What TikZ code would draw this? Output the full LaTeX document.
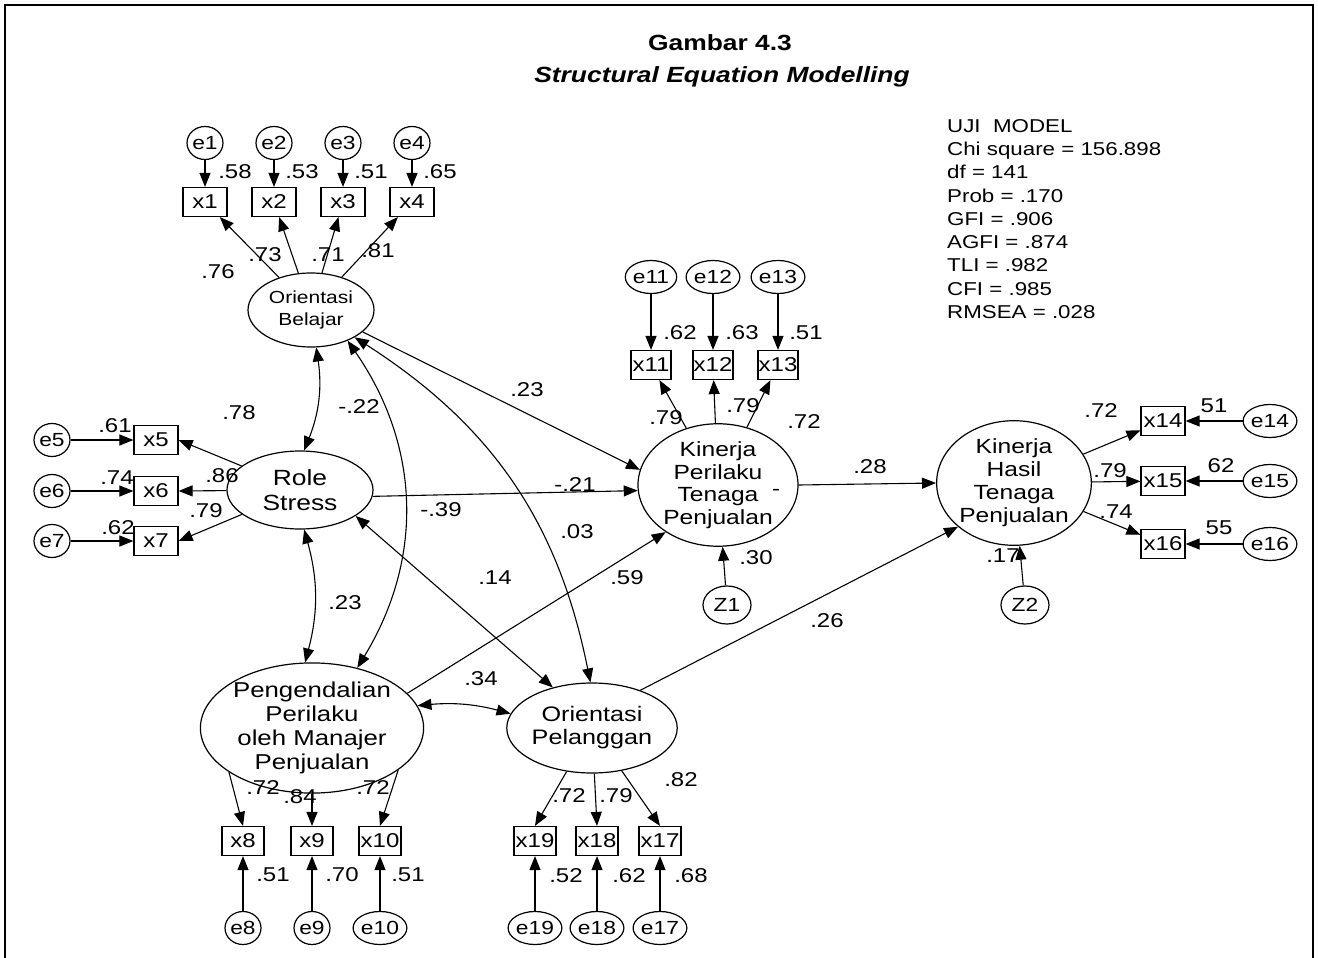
\documentclass[tikz,border=0pt]{standalone}
\usepackage{fontspec}
\setmainfont{Liberation Sans}[FakeStretch=1.2]
\usetikzlibrary{shapes.geometric,arrows.meta}
\begin{document}
\begin{tikzpicture}[x=1pt,y=-1pt,
  every node/.style={font=\fontsize{20}{22}\selectfont},
  obs/.style={draw,line width=1.2pt,minimum width=44pt,minimum height=29pt,inner sep=0pt},
  err/.style={draw,ellipse,line width=1.2pt,minimum width=36pt,minimum height=33pt,inner sep=0pt,font=\fontsize{19}{21}\selectfont},
  lat/.style={draw,ellipse,line width=1.2pt,inner sep=0pt,align=center,font=\fontsize{20}{23}\selectfont},
  lbl/.style={inner sep=0pt},
  arr/.style={-{Triangle[length=14pt,width=11pt]},line width=1.1pt},
  darr/.style={{Triangle[length=14pt,width=11pt]}-{Triangle[length=14pt,width=11pt]},line width=1.1pt},
]
\useasboundingbox (0,0) rectangle (1318,958);
\draw[line width=1.5pt] (5,958) -- (5,5) -- (1313,5) -- (1313,958);

% title
\node[font=\fontsize{22}{25}\bfseries] (t1) at (720,43) {Gambar 4.3};
\node[font=\fontsize{22}{25}\bfseries\itshape] (t2) at (722,77) {Structural Equation Modelling};

% fit block
\node[anchor=north west,align=left,inner sep=0pt,font=\fontsize{18.6}{23.3}\selectfont] (fit) at (947,119)
 {UJI\ \ MODEL\\Chi square = 156.898\\df = 141\\Prob = .170\\GFI = .906\\AGFI = .874\\TLI = .982\\CFI = .985\\RMSEA = .028};

% latent variables
\node[lat,minimum width=126pt,minimum height=74pt,font=\fontsize{17.5}{22}\selectfont] (OB) at (311,310) {Orientasi\\Belajar};
\node[lat,minimum width=146pt,minimum height=78pt,font=\fontsize{22}{25}\selectfont] (RS) at (300,490) {Role\\Stress};
\node[lat,minimum width=160pt,minimum height=110pt,font=\fontsize{20.5}{22.5}\selectfont] (KP) at (718,485) {Kinerja\\Perilaku\\Tenaga\\Penjualan};
\node[lat,minimum width=122pt,minimum height=122pt,font=\fontsize{20.5}{23}\selectfont] (KH) at (1014,483) {Kinerja\\Hasil\\Tenaga\\Penjualan};
\node[lat,minimum width=206pt,minimum height=116pt,font=\fontsize{21.5}{24}\selectfont] (PP) at (312,728) {Pengendalian\\Perilaku\\oleh Manajer\\Penjualan};
\node[lat,minimum width=124pt,minimum height=90pt,font=\fontsize{21}{23}\selectfont] (OP) at (592,728) {Orientasi\\Pelanggan};
\node[err,minimum width=48pt,minimum height=38pt] (Z1) at (727,605) {Z1};
\node[err,minimum width=48pt,minimum height=38pt] (Z2) at (1025,605) {Z2};
\node[lbl] (dash) at (776,492) {-};

% Orientasi Belajar indicators
\foreach \i/\x in {1/205,2/274,3/343,4/412}{
  \node[err] (e\i) at (\x,143) {e\i};
  \node[obs] (x\i) at (\x,202) {x\i};
  \draw[arr] (e\i) -- (x\i);
  \draw[arr] (OB) -- (x\i);
}
\node[lbl] (l1) at (235,172) {.58};
\node[lbl] (l2) at (302,172) {.53};
\node[lbl] (l3) at (371,172) {.51};
\node[lbl] (l4) at (440,172) {.65};
\node[lbl] (l5) at (218,272) {.76};
\node[lbl] (l6) at (265,255) {.73};
\node[lbl] (l7) at (328,255) {.71};
\node[lbl] (l8) at (378,251) {.81};

% Role stress indicators
\foreach \i/\y in {5/440,6/491,7/541}{
  \node[err] (e\i) at (52,\y) {e\i};
  \node[obs] (x\i) at (156,\y) {x\i};
  \draw[arr] (e\i) -- (x\i);
  \draw[arr] (RS) -- (x\i.east);
}
\node[lbl] at (115,426) {.61};
\node[lbl] at (117,478) {.74};
\node[lbl] at (118,528) {.62};
\node[lbl] at (239,413) {.78};
\node[lbl] at (222,476) {.86};
\node[lbl] at (206,511) {.79};

% Kinerja perilaku indicators
\foreach \i/\x in {11/651,12/713,13/778}{
  \node[err] (e\i) at (\x,277) {e\i};
  \node[obs,minimum width=40pt] (x\i) at (\x,365) {x\i};
  \draw[arr] (e\i) -- (x\i);
  \draw[arr] (KP) -- (x\i);
}
\node[lbl] at (680,333) {.62};
\node[lbl] at (742,333) {.63};
\node[lbl] at (806,333) {.51};
\node[lbl] at (666,418) {.79};
\node[lbl] at (743,406) {.79};
\node[lbl] at (804,422) {.72};
\node[lbl] at (756,558) {.30};
\draw[arr] (Z1) -- (KP);

% Kinerja hasil indicators
\foreach \i/\y in {14/421,15/481,16/544}{
  \node[err] (e\i) at (1270,\y) {e\i};
  \node[obs] (x\i) at (1163,\y) {x\i};
  \draw[arr] (e\i) -- (x\i);
  \draw[arr] (KH) -- (x\i);
}
\node[lbl] at (1101,411) {.72};
\node[lbl] at (1110,471) {.79};
\node[lbl] at (1116,512) {.74};
\node[lbl] at (1214,406) {51};
\node[lbl] at (1221,466) {62};
\node[lbl] at (1219,528) {55};
\node[lbl] at (1003,556) {.17};
\draw[arr] (Z2) -- (KH);

% Pengendalian indicators
\foreach \i/\x/\a in {8/243/208,9/312/270,10/380/334}{
  \node[err] (e\i) at (\x,928) {e\i};
  \node[obs,minimum width=42pt] (x\i) at (\x,841) {x\i};
  \draw[arr] (e\i) -- (x\i);
  \draw[arr] (PP.\a) -- (x\i.north);
}
\node[lbl] at (263,788) {.72};
\node[lbl] at (300,797) {.84};
\node[lbl] at (373,788) {.72};
\node[lbl] at (273,875) {.51};
\node[lbl] at (342,875) {.70};
\node[lbl] at (408,875) {.51};

% Orientasi pelanggan indicators
\foreach \i/\x in {19/535,18/597,17/660}{
  \node[err] (e\i) at (\x,928) {e\i};
  \node[obs,minimum width=42pt] (x\i) at (\x,841) {x\i};
  \draw[arr] (e\i) -- (x\i);
  \draw[arr] (OP) -- (x\i.north);
}
\node[lbl] at (569,796) {.72};
\node[lbl] at (616,796) {.79};
\node[lbl] at (681,780) {.82};
\node[lbl] at (566,876) {.52};
\node[lbl] at (629,876) {.62};
\node[lbl] at (691,876) {.68};

% structural paths
\draw[arr] (OB.-23) -- (KP.169);
\draw[arr] (RS.-5) -- (KP.184);
\draw[arr] (PP.20) -- (KP.222);
\draw[arr] (OP.38) -- (KH.218);
\draw[arr] (KP.east) -- (KH.west);

% correlations
\draw[darr] (OB.-82) to[bend left=15] (RS.84);
\draw[darr] (OB.-40) to[bend left=33] (PP.53);
\draw[darr] (OB.-32) to[bend left=23] (OP.92);
\draw[darr] (RS.-84) to[bend left=15] (PP.96);
\draw[darr] (RS.-25) -- (OP.134);
\draw[darr] (PP.12) to[bend left=10] (OP.170);

% path labels
\node[lbl] at (359,407) {-.22};
\node[lbl] at (527,390) {.23};
\node[lbl] at (575,485) {-.21};
\node[lbl] at (441,510) {-.39};
\node[lbl] at (577,532) {.03};
\node[lbl] at (495,578) {.14};
\node[lbl] at (627,578) {.59};
\node[lbl] at (345,603) {.23};
\node[lbl] at (481,679) {.34};
\node[lbl] at (870,467) {.28};
\node[lbl] at (827,621) {.26};
\end{tikzpicture}
\end{document}
